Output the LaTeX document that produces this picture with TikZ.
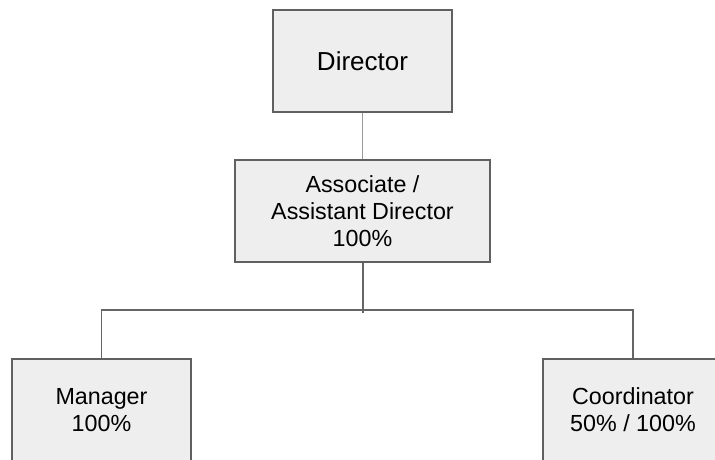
\documentclass[tikz,border=0pt]{standalone}
\usepackage{fontspec}
\setmainfont{Liberation Sans}
\definecolor{boxfill}{HTML}{EEEEEE}
\definecolor{boxline}{HTML}{606060}
\definecolor{linkline}{HTML}{9A9A9A}
\definecolor{busline}{HTML}{666666}
\begin{document}
\begin{tikzpicture}[x=1pt,y=-1pt,
  orgbox/.style={draw=boxline, fill=boxfill, line width=1.5pt, rectangle,
    inner sep=0pt, align=center, text=black,
    font=\fontsize{23.3}{26.7}\selectfont},
  toplink/.style={draw=linkline, line width=1.1pt},
  buslink/.style={draw=busline, line width=1.4pt}]
\useasboundingbox (0,0) rectangle (715,460);
\clip (0,0) rectangle (715,460);

% boxes
\node[orgbox, minimum width=179pt, minimum height=102pt,
  font=\fontsize{26}{30}\selectfont] (dir) at (362.5,61) {Director};
\node[orgbox, minimum width=255pt, minimum height=102pt] (assoc) at (362.5,211)
  {Associate /\\Assistant Director\\100\%};
\node[orgbox, minimum width=179pt, minimum height=102pt] (mgr) at (101.5,410)
  {Manager\\100\%};
\node[orgbox, minimum width=180pt, minimum height=102pt] (crd) at (633,410)
  {Coordinator\\50\% / 100\%};

% connectors
\coordinate (bus) at (363,310);
\coordinate (stub) at (363,313);
\draw[toplink] (dir.south) -- (assoc.north);
\draw[buslink] (assoc.south -| bus) -- (stub);
\draw[buslink] (mgr.north) -- (mgr.north |- bus) -- (crd.north |- bus) -- (crd.north);
\end{tikzpicture}
\end{document}
